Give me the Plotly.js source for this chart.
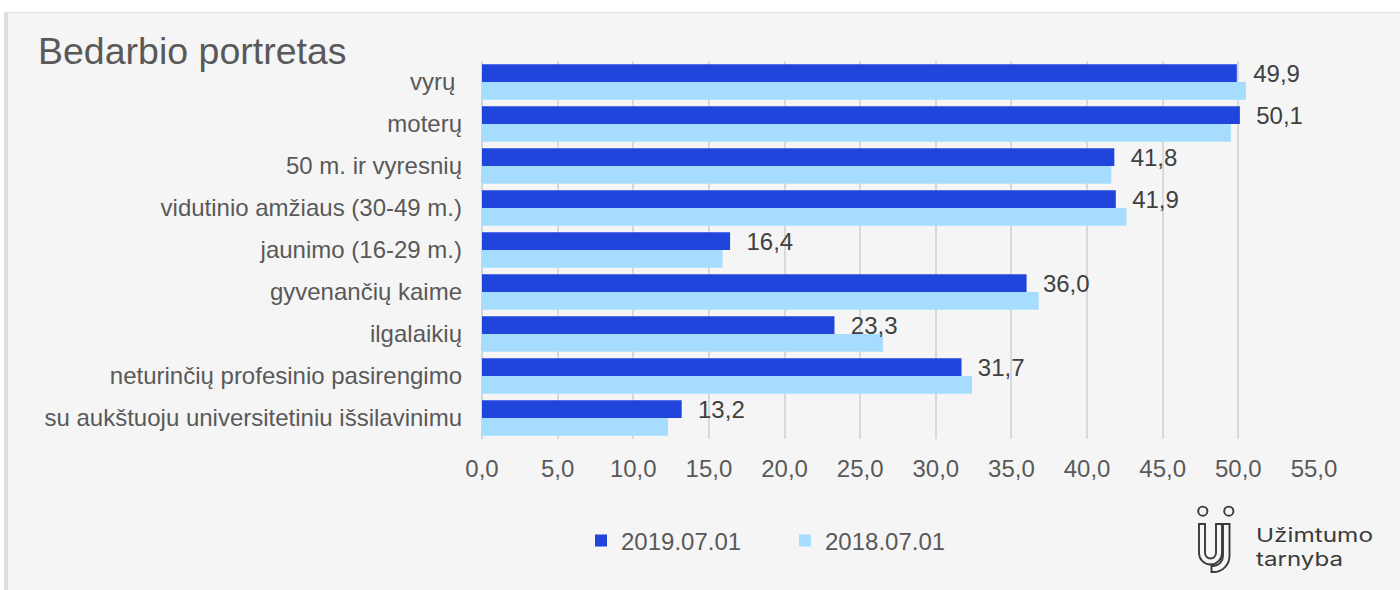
<!DOCTYPE html>
<html>
<head>
<meta charset="utf-8">
<script src="https://cdn.plot.ly/plotly-3.0.1.min.js"></script>
<style>
  html, body { margin: 0; padding: 0; background: #ffffff; }
  #frame { position: absolute; left: 4px; top: 12px; width: 1396px; height: 578px;
           box-sizing: border-box; background: #f5f5f5;
           border-left: 4px solid #dedede; border-top: 1px solid #e2e2e2; }
  #chart { position: absolute; left: 0; top: 0; width: 1400px; height: 590px; }
  #logo { position: absolute; left: 1190px; top: 500px; width: 200px; height: 85px; }
</style>
</head>
<body>
<div id="frame"></div>
<div id="chart"></div>
<svg id="logo" viewBox="1190 500 200 85" xmlns="http://www.w3.org/2000/svg">
  <g fill="none" stroke="#3a3a3a" stroke-width="1.9">
    <circle cx="1202.8" cy="511.2" r="4.6"/>
    <circle cx="1228.8" cy="511.2" r="4.6"/>
    <path d="M1205,524 H1199 V553 A11.5,11.5 0 0 0 1222,553 V524 H1216 V553 A5.5,5.5 0 0 1 1205,553 Z"/>
    <path d="M1223,524 H1229.5 V556 A16,16 0 0 1 1213.5,572 H1211.5 V566 H1213.5 A10,10 0 0 0 1223,556 Z"/>
  </g>
  <text x="1256" y="542" font-family="Inter, 'DejaVu Sans', sans-serif" font-size="19" fill="#3a3a3a"
        textLength="117" lengthAdjust="spacingAndGlyphs">Užimtumo</text>
  <text x="1256" y="565.5" font-family="Inter, 'DejaVu Sans', sans-serif" font-size="19" fill="#3a3a3a"
        textLength="87" lengthAdjust="spacingAndGlyphs">tarnyba</text>
</svg>
<script>
// ---- data ----
const categories = [
  "vyrų\u00a0",
  "moterų",
  "50 m. ir vyresnių",
  "vidutinio amžiaus (30-49 m.)",
  "jaunimo (16-29 m.)",
  "gyvenančių kaime",
  "ilgalaikių",
  "neturinčių profesinio pasirengimo",
  "su aukštuoju universitetiniu išsilavinimu"
];
const seriesNames = ["2019.07.01", "2018.07.01"];
const values2019 = [49.9, 50.1, 41.8, 41.9, 16.4, 36.0, 23.3, 31.7, 13.2];
const values2018 = [50.5, 49.5, 41.6, 42.6, 15.9, 36.8, 26.5, 32.4, 12.3];
const xTickValues = [0, 5, 10, 15, 20, 25, 30, 35, 40, 45, 50, 55];

// ---- styles ----
const FONT = '"Liberation Sans", Arial, sans-serif';
const TXT = '#595959';
const FS = 24;

// 2018 trace first (drawn first, lower slot), 2019 second (upper slot, labels drawn on top)
const traces = [
  {
    type: 'bar', orientation: 'h', name: seriesNames[1],
    x: values2018, y: categories,
    marker: { color: '#A6DCFE' },
    hoverinfo: 'x+y'
  },
  {
    type: 'bar', orientation: 'h', name: seriesNames[0],
    x: values2019, y: categories,
    marker: { color: '#2045DC' },
    texttemplate: '\u00a0\u00a0%{x:.1f}',
    textposition: 'outside',
    constraintext: 'none',
    cliponaxis: false,
    textfont: { family: FONT, size: FS, color: '#404040' },
    hoverinfo: 'x+y'
  }
];

const layout = {
  width: 1400, height: 590,
  margin: { l: 482, r: 86, t: 61, b: 151, pad: 0 },
  paper_bgcolor: 'rgba(0,0,0,0)',
  plot_bgcolor: 'rgba(0,0,0,0)',
  separators: ', ',
  font: { family: FONT, size: FS, color: TXT },
  barmode: 'group',
  bargap: 0.15,
  bargroupgap: 0,
  title: {
    text: 'Bedarbio portretas',
    font: { family: FONT, size: 37.5, color: TXT },
    xref: 'container', x: 38 / 1400, xanchor: 'left',
    yref: 'container', y: 1 - 51 / 590, yanchor: 'middle'
  },
  xaxis: {
    range: [0, 55],
    tickvals: xTickValues,
    tickformat: '.1f',
    showgrid: true, gridcolor: '#d9d9d9', gridwidth: 1.5,
    zeroline: true, zerolinecolor: '#d4d4d4', zerolinewidth: 1.5,
    showline: false, ticks: '',
    ticklabelstandoff: 13,
    tickfont: { family: FONT, size: FS, color: TXT },
    fixedrange: true
  },
  yaxis: {
    type: 'category',
    categoryorder: 'array',
    categoryarray: categories.slice().reverse(),
    showgrid: false, zeroline: false, showline: false, ticks: '',
    ticklabelstandoff: 19,
    tickfont: { family: FONT, size: FS, color: TXT },
    fixedrange: true
  },
  showlegend: true,
  legend: {
    orientation: 'h',
    x: (581 - 482) / 832, xanchor: 'left',
    y: (439 - 541) / 378, yanchor: 'middle',
    bgcolor: 'rgba(0,0,0,0)',
    entrywidth: 159, entrywidthmode: 'pixels',
    font: { family: FONT, size: FS, color: TXT },
    traceorder: 'reversed'
  }
};

Plotly.newPlot('chart', traces, layout, { displayModeBar: false, staticPlot: false });
</script>
</body>
</html>
